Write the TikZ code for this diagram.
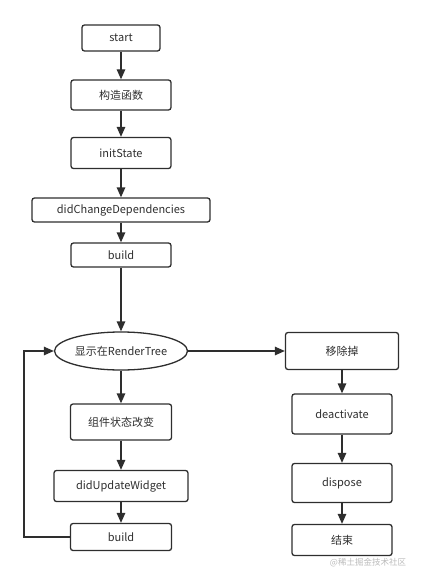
\documentclass[tikz,border=0pt]{standalone}
\usepackage{fontspec}
\setmainfont{Noto Sans CJK SC}
\usepackage{tikz}
\usetikzlibrary{arrows.meta,shapes.geometric}
\definecolor{ink}{HTML}{2E2E2E}
\definecolor{mark}{HTML}{BBBBBB}

\begin{document}
\begin{tikzpicture}[x=1pt,y=-1pt]
\tikzset{box/.style = {shape=rectangle,draw=ink,text=ink,rounded corners=2.5pt,line width=1.3pt,inner sep=0pt,font=\fontsize{11}{13}\selectfont}}
\tikzset{oval/.style = {shape=ellipse,draw=ink,text=ink,line width=1.3pt,inner sep=0pt,font=\fontsize{11}{13}\selectfont}}
\tikzset{edge/.style = {->,> = {Triangle[length=10pt,width=8.5pt]},draw=ink,line width=1.3pt}}
\useasboundingbox (0,0) rectangle (423,580);
% left column
\node[box,minimum width=78pt,minimum height=26pt]  (start)  at (121,38)  {start};
\node[box,minimum width=100pt,minimum height=30pt] (ctor)   at (121,95)  {构造函数};
\node[box,minimum width=100pt,minimum height=31pt] (init)   at (121,153) {initState};
\node[box,minimum width=178pt,minimum height=24pt] (deps)   at (121,210) {didChangeDependencies};
\node[box,minimum width=100pt,minimum height=24pt] (build)  at (121,255) {build};
\node[oval,minimum width=133pt,minimum height=38pt] (show)  at (121,351) {显示在RenderTree};
\node[box,minimum width=101pt,minimum height=36pt] (change) at (121,422) {组件状态改变};
\node[box,minimum width=134pt,minimum height=31pt] (update) at (121,486) {didUpdateWidget};
\node[box,minimum width=101pt,minimum height=27pt] (rebuild) at (121,537) {build};
% right column
\node[box,minimum width=113pt,minimum height=37pt] (remove) at (342,351) {移除掉};
\node[box,minimum width=100pt,minimum height=40pt] (deact)  at (342,414) {deactivate};
\node[box,minimum width=100pt,minimum height=39pt] (disp)   at (342,483) {dispose};
\node[box,minimum width=100pt,minimum height=31pt] (end)    at (342,540) {结束};
% watermark
\node[text=mark,font=\fontsize{8.5}{10}\selectfont] (wm) at (368,563) {@稀土掘金技术社区};
% edges
\draw[edge] (start) to (ctor);
\draw[edge] (ctor) to (init);
\draw[edge] (init) to (deps);
\draw[edge] (deps) to (build);
\draw[edge] (build) to (show);
\draw[edge] (show) to (change);
\draw[edge] (change) to (update);
\draw[edge] (update) to (rebuild);
\draw[edge] (rebuild.west) -- ++(-46,0) |- (show.west);
\draw[edge] (show) to (remove);
\draw[edge] (remove) to (deact);
\draw[edge] (deact) to (disp);
\draw[edge] (disp) to (end);
\end{tikzpicture}
\end{document}
